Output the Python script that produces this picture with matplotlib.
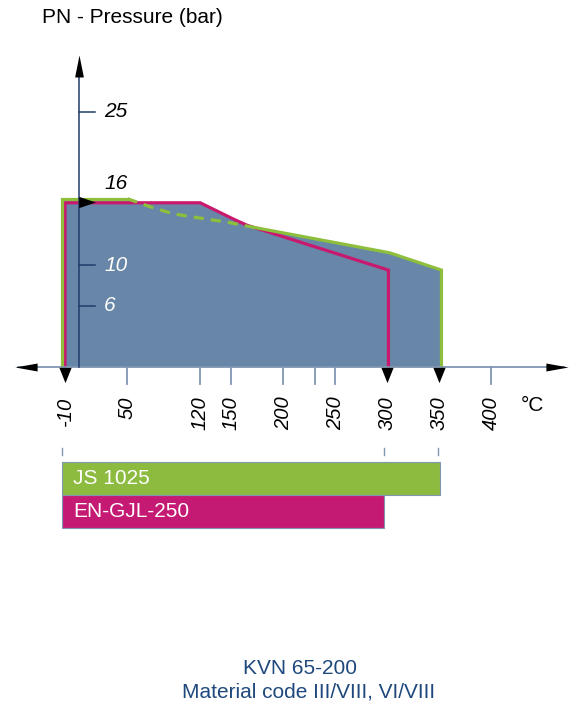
import matplotlib
matplotlib.use("Agg")
import matplotlib.pyplot as plt
import numpy as np

plt.rcParams['font.family'] = ['Liberation Sans', 'DejaVu Sans']

# ---- data ----
# JS 1025 (green) envelope
js_T = [-13, -13, 50, 75, 95, 120, 146, 171, 302, 352, 352]
js_P = [0, 16.5, 16.5, 15.6, 15.0, 14.6, 14.2, 13.7, 11.2, 9.5, 0]
js_dash_from, js_dash_to = 2, 7   # indices of dashed segment (50 .. 171 C)

# EN-GJL-250 (magenta) envelope
gjl_T = [-10, -10, 120, 136, 152, 165, 301, 301]
gjl_P = [0, 16.1, 16.1, 15.3, 14.5, 13.9, 9.5, 0]

x_ticks = [50, 120, 150, 200, 230, 250, 400]
x_labels_T = [-10, 50, 120, 150, 200, 250, 300, 350, 400]
x_marker_T = [-10, 300, 350]
y_ticks = [6, 10, 25]
y_labels = [6, 10, 16, 25]
y_label_colors = ['white', 'white', 'black', 'black']

materials = ['JS 1025', 'EN-GJL-250']
mat_start = [-13, -13]
mat_end = [350.5, 296.7]

# ---- style ----
fill_c = '#6886A8'
green = '#8DBE3C'
magenta = '#C8196E'
bar_green = '#8CBB40'
bar_mag = '#C51A74'
yaxis_c = '#1F3D6B'
xaxis_c = '#8096B2'
text_blue = '#1F497D'

fig = plt.figure(figsize=(5.78, 7.08), dpi=100)
ax = fig.add_axes([0, 0, 1, 1])
ax.set_xlim(-72.5, 483.3)
ax.set_ylim(-33.43, 35.98)
ax.axis('off')


def px2T(px):
    return (px - 65) / 1.04 - 10


def py2P(py):
    return (367 - py) / 10.2


# fill (union of both envelopes)
ax.fill(js_T, js_P, color=fill_c, lw=0, zorder=1)
ax.fill(gjl_T, gjl_P, color=fill_c, lw=0, zorder=1)

# magenta line
ax.plot(gjl_T, gjl_P, color=magenta, lw=2.3, zorder=3, solid_joinstyle='miter')
# green line: solid / dashed / solid
ax.plot(js_T[:js_dash_from + 1], js_P[:js_dash_from + 1], color=green, lw=2.3,
        zorder=4, solid_joinstyle='miter')
ax.plot(js_T[js_dash_from:js_dash_to + 1], js_P[js_dash_from:js_dash_to + 1],
        color=green, lw=2.3, zorder=4, dashes=(3.2, 2.2))
ax.plot(js_T[js_dash_to:], js_P[js_dash_to:], color=green, lw=2.3, zorder=4,
        solid_joinstyle='miter')

# x axis
ax.plot([-55, 470], [0, 0], color=xaxis_c, lw=1.3, zorder=5)
left_arrow = [(0.5, 0.18), (0.5, -0.18), (-0.5, 0)]
right_arrow = [(-0.5, 0.18), (-0.5, -0.18), (0.5, 0)]
ax.plot([-47.5], [0], marker=left_arrow, ms=16, color='black', mec='black', mew=0, zorder=6)
ax.plot([463], [0], marker=right_arrow, ms=16, color='black', mec='black', mew=0, zorder=6)
for t in x_ticks:
    ax.plot([t, t], [0, -1.67], color=xaxis_c, lw=1.3, zorder=5)
down_tri = [(-0.4, 0.5), (0.4, 0.5), (0, -0.5)]
ax.plot(x_marker_T, [-0.74] * len(x_marker_T), ls='none', marker=down_tri, ms=11,
        color='black', mew=0, zorder=6)
for t in x_labels_T:
    ax.text(t, -2.9, str(t), rotation=90, ha='center', va='top', fontsize=14.5,
            style='italic', color='black')
ax.text(px2T(532), py2P(405), '°C', ha='center', va='center', fontsize=15, color='black')

# y axis
y_x = 3.0
ax.plot([y_x, y_x], [0, 29.0], color=yaxis_c, lw=1.1, zorder=5)
up_arrow = [(-0.2, -0.5), (0.2, -0.5), (0, 0.5)]
ax.plot([y_x], [29.5], marker=up_arrow, ms=15.8, color='black', mew=0, zorder=6)
for v in y_ticks:
    ax.plot([y_x, 18.8], [v, v], color=yaxis_c, lw=1.1, zorder=5)
right_tri = [(-0.5, 0.34), (-0.5, -0.34), (0.5, 0)]
ax.plot([10.9], [16.2], marker=right_tri, ms=12, color='black', mew=0, zorder=6)
for v, c in zip(y_labels, y_label_colors):
    yy = 17.95 if v == 16 else v
    ax.text(27.5, yy, str(v), ha='left', va='center', fontsize=15, style='italic',
            color=c, zorder=7)

ax.text(px2T(42), py2P(18), 'PN - Pressure (bar)', ha='left', va='center', fontsize=15,
        color='black')

# material bars
bar_colors = [bar_green, bar_mag]
bar_h = 3.23
for i, (m, s, e, c) in enumerate(zip(materials, mat_start, mat_end, bar_colors)):
    top = -9.31 - i * bar_h
    ax.add_patch(plt.Rectangle((s, top - bar_h), e - s, bar_h, facecolor=c,
                               edgecolor='#8096B2', lw=0.8, zorder=3))
    ax.text(s + 10.5, top - bar_h / 2, m, ha='left', va='center', fontsize=15,
            color='white', zorder=4)
for t in [mat_start[0], mat_end[1], mat_end[0] - 2]:
    ax.plot([t, t], [-7.9, -8.6], color=xaxis_c, lw=1.0, zorder=3)

# footer
ax.text(px2T(300), py2P(668), 'KVN 65-200', ha='center', va='center',
        fontsize=15, color=text_blue)
ax.text(px2T(309), py2P(692), 'Material code III/VIII, VI/VIII', ha='center',
        va='center', fontsize=15, color=text_blue)

fig.savefig('out.png', dpi=100)
